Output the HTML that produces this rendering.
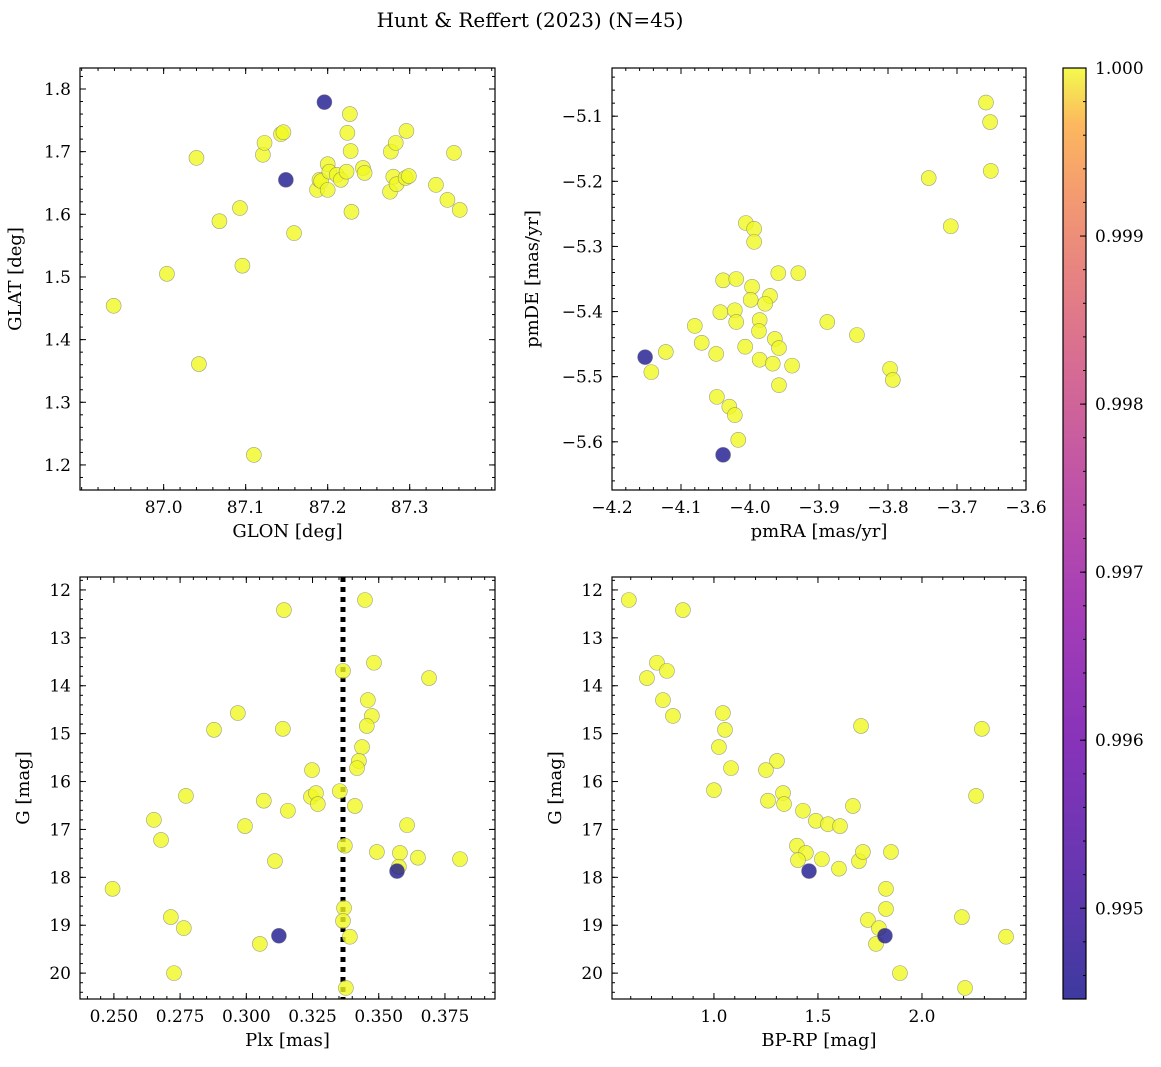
<!DOCTYPE html>
<html><head><meta charset="utf-8">
<style>
html,body{margin:0;padding:0;background:#fff;}
svg{display:block;font-family:"DejaVu Serif","Liberation Serif",serif;}
</style></head>
<body>
<svg id="fig" width="1161" height="1067" viewBox="0 0 1161 1067" xmlns="http://www.w3.org/2000/svg">
<defs>
<linearGradient id="plasma" x1="0" y1="1" x2="0" y2="0">
<stop offset="0" stop-color="#0d0887"/><stop offset="0.14" stop-color="#41049d"/>
<stop offset="0.28" stop-color="#6a00a8"/><stop offset="0.42" stop-color="#8f0da4"/>
<stop offset="0.56" stop-color="#b12a90"/><stop offset="0.68" stop-color="#cc4778"/>
<stop offset="0.78" stop-color="#e16462"/><stop offset="0.87" stop-color="#f2844b"/>
<stop offset="0.94" stop-color="#fca636"/><stop offset="1" stop-color="#f0f921"/>
</linearGradient>
</defs>
<text x="530" y="27" font-size="20" text-anchor="middle">Hunt &amp; Reffert (2023) (N=45)</text>
</svg>
<script>
// Panel 1: GLON / GLAT
const glon=[86.939,87.004,87.040,87.043,87.068,87.093,87.096,87.110,87.121,87.123,87.143,87.146,87.149,87.159,87.196,87.187,87.190,87.192,87.200,87.202,87.200,87.211,87.216,87.223,87.224,87.227,87.228,87.229,87.243,87.245,87.276,87.277,87.283,87.280,87.284,87.295,87.299,87.296,87.332,87.346,87.354,87.361];
const glat=[1.454,1.505,1.690,1.361,1.589,1.610,1.518,1.216,1.695,1.714,1.728,1.731,1.655,1.570,1.779,1.639,1.655,1.653,1.680,1.668,1.639,1.663,1.655,1.668,1.730,1.760,1.701,1.604,1.674,1.666,1.636,1.700,1.714,1.660,1.648,1.658,1.661,1.733,1.647,1.623,1.698,1.607];
const prob1=[1,1,1,1,1,1,1,1,1,1,1,1,0.9945,1,0.9945,1,1,1,1,1,1,1,1,1,1,1,1,1,1,1,1,1,1,1,1,1,1,1,1,1,1,1];
// Panel 2: pmRA / pmDE
const pmra=[-3.658,-3.652,-3.651,-3.741,-3.709,-4.006,-3.994,-3.994,-3.959,-3.930,-4.039,-4.020,-3.997,-3.999,-3.971,-3.978,-4.043,-4.022,-3.986,-4.020,-3.888,-4.080,-3.987,-4.070,-3.964,-3.845,-4.007,-4.122,-3.958,-4.049,-3.986,-3.967,-3.939,-4.152,-4.143,-3.797,-3.793,-3.958,-4.048,-4.030,-4.022,-4.017,-4.039];
const pmde=[-5.079,-5.109,-5.184,-5.195,-5.269,-5.264,-5.273,-5.293,-5.341,-5.341,-5.352,-5.350,-5.362,-5.382,-5.376,-5.388,-5.401,-5.398,-5.413,-5.416,-5.416,-5.422,-5.430,-5.448,-5.442,-5.436,-5.454,-5.462,-5.456,-5.465,-5.474,-5.480,-5.483,-5.470,-5.493,-5.488,-5.505,-5.513,-5.531,-5.546,-5.559,-5.597,-5.620];
const prob2=[1,1,1,1,1,1,1,1,1,1,1,1,1,1,1,1,1,1,1,1,1,1,1,1,1,1,1,1,1,1,1,1,1,0.9945,1,1,1,1,1,1,1,1,0.9945];
// Panel 3: Plx / G
const plx=[0.2495,0.3142,0.3448,0.3482,0.3690,0.3365,0.2968,0.3459,0.3474,0.2878,0.3138,0.3455,0.3437,0.3425,0.3418,0.3248,0.3244,0.3263,0.3353,0.2772,0.3066,0.3270,0.3410,0.3157,0.2651,0.2995,0.3607,0.2678,0.3372,0.3493,0.3580,0.3108,0.3648,0.3807,0.3569,0.3576,0.2715,0.2764,0.3123,0.3369,0.3365,0.3391,0.3051,0.2727,0.3376];
const gmag3=[18.24,12.42,12.21,13.52,13.84,13.69,14.57,14.30,14.63,14.92,14.90,14.84,15.28,15.57,15.72,15.76,16.32,16.24,16.20,16.30,16.40,16.47,16.51,16.61,16.80,16.93,16.91,17.22,17.34,17.47,17.49,17.66,17.59,17.62,17.87,17.78,18.83,19.06,19.22,18.64,18.91,19.24,19.39,20.00,20.31];
const prob3=[1,1,1,1,1,1,1,1,1,1,1,1,1,1,1,1,1,1,1,1,1,1,1,1,1,1,1,1,1,1,1,1,1,1,0.9945,1,1,1,0.9945,1,1,1,1,1,1];
// Panel 4: BP-RP / G
const bprp=[0.591,0.851,0.726,0.678,0.774,0.755,0.803,1.043,1.053,1.024,1.082,1.000,1.303,1.250,1.260,1.332,1.337,1.428,1.490,1.548,1.606,1.668,1.707,2.260,2.288,1.399,1.442,1.404,1.519,1.601,1.697,1.716,1.457,1.851,1.827,1.740,1.793,1.779,1.827,1.822,2.192,1.894,2.207,2.404];
const gmag4=[12.21,12.42,13.52,13.84,13.69,14.30,14.63,14.57,14.92,15.28,15.72,16.18,15.57,15.76,16.40,16.24,16.47,16.61,16.82,16.89,16.93,16.51,14.84,16.30,14.90,17.34,17.49,17.64,17.62,17.82,17.66,17.47,17.87,17.47,18.24,18.89,19.06,19.39,18.66,19.22,18.83,20.00,20.31,19.24];
const prob4=[1,1,1,1,1,1,1,1,1,1,1,1,1,1,1,1,1,1,1,1,1,1,1,1,1,1,1,1,1,1,1,1,0.9945,1,1,1,1,1,1,0.9945,1,1,1,1];
const plxLine=[0.3365];
const cbTicks=[0.995,0.996,0.997,0.998,0.999,1.000];

const NS='http://www.w3.org/2000/svg';
const fig=document.getElementById('fig');
function mk(tag,attrs,parent){const e=document.createElementNS(NS,tag);for(const k in attrs)e.setAttribute(k,attrs[k]);(parent||fig).appendChild(e);return e;}
function probColor(p){return p>0.9995?'#f0f921':'#1a168e';}

function panel(o){
  const g=mk('g',{});
  
  
  const sx=v=>o.x0+(v-o.xmin)/(o.xmax-o.xmin)*(o.x1-o.x0);
  const sy=o.invert?(v=>o.y0+(v-o.ymin)/(o.ymax-o.ymin)*(o.y1-o.y0)):(v=>o.y1-(v-o.ymin)/(o.ymax-o.ymin)*(o.y1-o.y0));
  const tg=mk('g',{stroke:'#000','stroke-width':1},g);
  function ticks(min,max,step){
    const out=[];const n0=Math.ceil(min/step-1e-6),n1=Math.floor(max/step+1e-6);
    for(let n=n0;n<=n1;n++)out.push(n*step);return out;}
  ticks(o.xmin,o.xmax,o.xminor).forEach(v=>{const X=sx(v);mk('line',{x1:X,x2:X,y1:o.y1,y2:o.y1-3},tg);mk('line',{x1:X,x2:X,y1:o.y0,y2:o.y0+3},tg);});
  ticks(Math.min(o.ymin,o.ymax),Math.max(o.ymin,o.ymax),o.yminor).forEach(v=>{const Y=sy(v);mk('line',{x1:o.x0,x2:o.x0+3,y1:Y,y2:Y},tg);mk('line',{x1:o.x1,x2:o.x1-3,y1:Y,y2:Y},tg);});
  o.xticks.forEach((v,i)=>{const X=sx(v);mk('line',{x1:X,x2:X,y1:o.y1,y2:o.y1-6},tg);mk('line',{x1:X,x2:X,y1:o.y0,y2:o.y0+6},tg);
    const t=mk('text',{x:X,y:o.y1+23,'font-size':17,'text-anchor':'middle'},g);t.textContent=o.xlabels[i];
    });
  o.yticks.forEach((v,i)=>{const Y=sy(v);mk('line',{x1:o.x0,x2:o.x0+6,y1:Y,y2:Y},tg);mk('line',{x1:o.x1,x2:o.x1-6,y1:Y,y2:Y},tg);
    const t=mk('text',{x:o.x0-9,y:Y+6,'font-size':17,'text-anchor':'end'},g);t.textContent=o.ylabels[i];
    });
  if(o.vline){o.vline.forEach(v=>{const l=mk('line',{x1:sx(v),x2:sx(v),y1:o.y0,y2:o.y1,stroke:'#000','stroke-width':5,'stroke-dasharray':'5,5'},g);
    });}
  const idx=o.xs.map((_,i)=>i).sort((a,b)=>o.c[b]-o.c[a]);
  idx.forEach(i=>{
    const c=mk('circle',{cx:sx(o.xs[i]),cy:sy(o.ys[i]),r:7.5,fill:probColor(o.c[i]),'fill-opacity':0.8,stroke:'#777','stroke-width':0.6,'stroke-opacity':0.7},g);
    
    
  });
  const fr=mk('rect',{x:o.x0,y:o.y0,width:o.x1-o.x0,height:o.y1-o.y0,fill:'none',stroke:'#000','stroke-width':1.2},g);
  
  const xl=mk('text',{x:(o.x0+o.x1)/2,y:o.y1+47,'font-size':18,'text-anchor':'middle'},g);xl.textContent=o.xtitle;
  
  const yx=o.x0-o.ytoff,yy=(o.y0+o.y1)/2;
  const yl=mk('text',{x:yx,y:yy,'font-size':18,'text-anchor':'middle',transform:`rotate(-90 ${yx} ${yy})`},g);yl.textContent=o.ytitle;
  
}
panel({name:'glon-glat-panel',x0:80,x1:495,y0:68,y1:490,xmin:86.898,xmax:87.404,ymin:1.160,ymax:1.8335,
  xticks:[87.0,87.1,87.2,87.3],xlabels:['87.0','87.1','87.2','87.3'],xminor:0.02,
  yticks:[1.2,1.3,1.4,1.5,1.6,1.7,1.8],ylabels:['1.2','1.3','1.4','1.5','1.6','1.7','1.8'],yminor:0.02,
  xs:glon,ys:glat,c:prob1,xtitle:'GLON [deg]',ytitle:'GLAT [deg]',ytoff:59});
panel({name:'proper-motion-panel',x0:612,x1:1026,y0:68,y1:490,xmin:-4.2,xmax:-3.6,ymin:-5.674,ymax:-5.026,
  xticks:[-4.2,-4.1,-4.0,-3.9,-3.8,-3.7,-3.6],xlabels:['−4.2','−4.1','−4.0','−3.9','−3.8','−3.7','−3.6'],xminor:0.02,
  yticks:[-5.6,-5.5,-5.4,-5.3,-5.2,-5.1],ylabels:['−5.6','−5.5','−5.4','−5.3','−5.2','−5.1'],yminor:0.02,
  xs:pmra,ys:pmde,c:prob2,xtitle:'pmRA [mas/yr]',ytitle:'pmDE [mas/yr]',ytoff:74});
panel({name:'parallax-magnitude-panel',x0:80,x1:495,y0:577,y1:999,xmin:0.2372,xmax:0.3939,ymin:11.73,ymax:20.54,invert:true,
  xticks:[0.25,0.275,0.3,0.325,0.35,0.375],xlabels:['0.250','0.275','0.300','0.325','0.350','0.375'],xminor:0.005,
  yticks:[12,13,14,15,16,17,18,19,20],ylabels:['12','13','14','15','16','17','18','19','20'],yminor:0.2,
  xs:plx,ys:gmag3,c:prob3,xtitle:'Plx [mas]',ytitle:'G [mag]',ytoff:51,vline:plxLine});
panel({name:'color-magnitude-panel',x0:612,x1:1026,y0:577,y1:999,xmin:0.51,xmax:2.5,ymin:11.73,ymax:20.54,invert:true,
  xticks:[1.0,1.5,2.0],xlabels:['1.0','1.5','2.0'],xminor:0.1,
  yticks:[12,13,14,15,16,17,18,19,20],ylabels:['12','13','14','15','16','17','18','19','20'],yminor:0.2,
  xs:bprp,ys:gmag4,c:prob4,xtitle:'BP-RP [mag]',ytitle:'G [mag]',ytoff:51});
(function(){
  const g=mk('g',{});
  
  
  const x0=1063,x1=1086,y0=68,y1=999,vmin=0.99446,vmax=1.0;
  const sy=v=>y1-(v-vmin)/(vmax-vmin)*(y1-y0);
  mk('rect',{x:x0,y:y0,width:x1-x0,height:y1-y0,fill:'url(#plasma)','fill-opacity':0.8},g);
  mk('rect',{x:x0,y:y0,width:x1-x0,height:y1-y0,fill:'none',stroke:'#000','stroke-width':1.2},g);
  for(let n=Math.ceil(vmin/0.0002);n<=Math.floor(vmax/0.0002+1e-6);n++){const Y=sy(n*0.0002);mk('line',{x1:x1,x2:x1-3,y1:Y,y2:Y,stroke:'#000'},g);}
  cbTicks.forEach(v=>{const Y=sy(v);mk('line',{x1:x1,x2:x1-6,y1:Y,y2:Y,stroke:'#000'},g);
    const t=mk('text',{x:x1+9,y:Y+6,'font-size':17},g);t.textContent=v.toFixed(3);
    });
})();
</script>
</body></html>
